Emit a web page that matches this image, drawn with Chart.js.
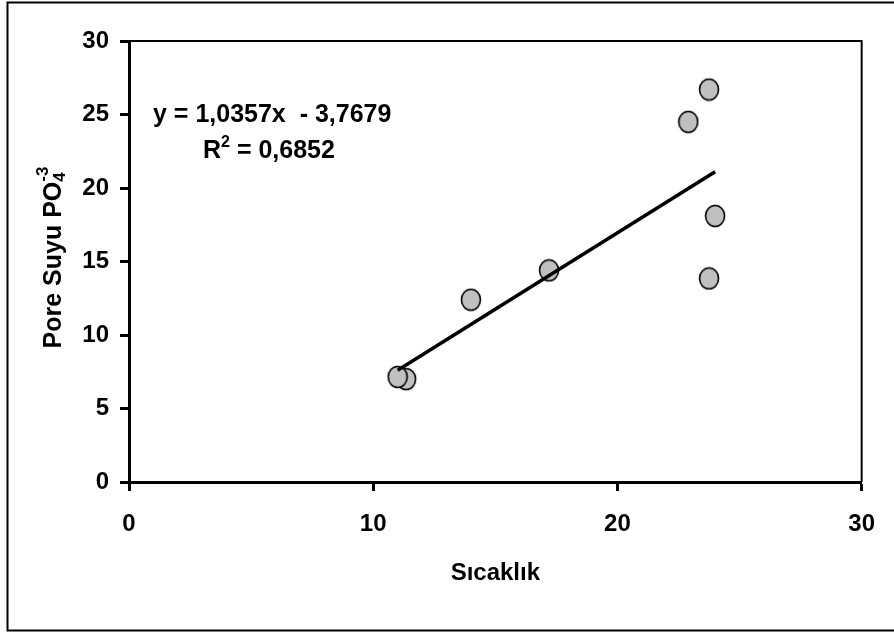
<!DOCTYPE html>
<html>
<head>
<meta charset="utf-8">
<script src="https://cdn.jsdelivr.net/npm/chart.js@4"></script>
<style>
  html, body { margin: 0; padding: 0; background: #fff; }
  #wrap { width: 894px; height: 632px; position: relative; }
</style>
</head>
<body>
<div id="wrap"><canvas id="scatterChart"></canvas></div>
<script>
// sample points
const sicaklik = [11.35, 11.0, 14.0, 17.2, 22.9, 23.75, 24.0, 23.75];
const poreSuyu = [7.0, 7.15, 12.4, 14.4, 24.5, 26.7, 18.1, 13.85];

// trend line ends (min x / max x)
const trendX = [11.0, 24.0];
const trendY = [7.6, 21.1];

const xTicks = [0, 10, 20, 30];
const yTicks = [0, 5, 10, 15, 20, 25, 30];

const eqLine = 'y = 1,0357x  - 3,7679';
const r2Value = ' = 0,6852';

const FONT = "'Liberation Sans', Arial, sans-serif";

// slightly tall oval marker like the original
function makeMarker() {
    const c = document.createElement('canvas');
    c.width = 22;
    c.height = 24;
    const g = c.getContext('2d');
    g.beginPath();
    g.ellipse(11, 12, 9.5, 10.5, 0, 0, Math.PI * 2);
    g.fillStyle = '#C0C0C0';
    g.fill();
    g.lineWidth = 1.6;
    g.strokeStyle = '#000';
    g.stroke();
    return c;
}

const framePlugin = {
    id: 'frame',
    beforeDraw(chart) {
        const ctx = chart.ctx;
        ctx.save();
        ctx.fillStyle = '#fff';
        ctx.fillRect(0, 0, chart.width, chart.height);
        ctx.restore();
    },
    afterDraw(chart) {
        const ctx = chart.ctx;
        const a = chart.chartArea;
        ctx.save();

        // outer border
        ctx.strokeStyle = '#000';
        ctx.lineWidth = 2;
        ctx.beginPath();
        ctx.moveTo(900, 2.5);
        ctx.lineTo(7.5, 2.5);
        ctx.lineTo(7.5, 630.5);
        ctx.lineTo(900, 630.5);
        ctx.stroke();

        // top and right of plot area
        ctx.lineWidth = 2;
        ctx.beginPath();
        ctx.moveTo(a.left, a.top);
        ctx.lineTo(a.right, a.top);
        ctx.lineTo(a.right, a.bottom);
        ctx.stroke();

        ctx.fillStyle = '#000';

        // y axis title with sub/superscript
        ctx.save();
        ctx.translate(61, (a.top + a.bottom) / 2 - 4);
        ctx.rotate(-Math.PI / 2);
        ctx.textBaseline = 'alphabetic';
        const big = 'bold 25px ' + FONT;
        const small = 'bold 17px ' + FONT;
        ctx.font = big;
        const w1 = ctx.measureText('Pore Suyu PO').width;
        ctx.font = small;
        const w3 = ctx.measureText('-3').width;
        let x = -(w1 + w3) / 2;
        ctx.font = big;
        ctx.fillText('Pore Suyu PO', x, 0);
        x += w1;
        ctx.font = small;
        ctx.fillText('4', x, 4);
        ctx.fillText('-3', x, -13);
        ctx.restore();

        // x axis title
        ctx.font = 'bold 24px ' + FONT;
        ctx.textAlign = 'center';
        ctx.textBaseline = 'middle';
        ctx.fillText('Sıcaklık', (a.left + a.right) / 2, 573);

        // regression text
        ctx.textAlign = 'left';
        ctx.textBaseline = 'alphabetic';
        ctx.font = 'bold 25px ' + FONT;
        ctx.fillText(eqLine, 153, 122);
        ctx.fillText('R', 203, 158);
        const rw = ctx.measureText('R').width;
        ctx.font = 'bold 16px ' + FONT;
        ctx.fillText('2', 203 + rw, 147);
        const sw = ctx.measureText('2').width;
        ctx.font = 'bold 25px ' + FONT;
        ctx.fillText(r2Value, 203 + rw + sw, 158);

        ctx.restore();
    }
};

window.addEventListener('load', () => {
    const canvas = document.getElementById('scatterChart');
    Chart.defaults.font.family = FONT;
    Chart.defaults.color = '#000';

    new Chart(canvas.getContext('2d'), {
        type: 'scatter',
        data: {
            datasets: [{
                type: 'line',
                label: 'Trend',
                data: trendX.map((v, i) => ({ x: v, y: trendY[i] })),
                borderColor: '#000',
                borderWidth: 3.5,
                pointRadius: 0,
                fill: false,
                order: 0
            }, {
                label: 'PO4',
                data: sicaklik.map((v, i) => ({ x: v, y: poreSuyu[i] })),
                pointStyle: makeMarker(),
                pointRadius: 10,
                order: 1
            }]
        },
        options: {
            responsive: true,
            maintainAspectRatio: false,
            animation: false,
            layout: {
                padding: { top: 41, right: 27, left: 0, bottom: 0 }
            },
            plugins: {
                legend: { display: false },
                tooltip: { enabled: false }
            },
            scales: {
                x: {
                    type: 'linear',
                    min: 0,
                    max: 30,
                    afterFit: s => { s.height = 150; },
                    afterBuildTicks: s => { s.ticks = xTicks.map(v => ({ value: v })); },
                    grid: {
                        drawOnChartArea: false,
                        drawTicks: true,
                        tickLength: 9,
                        tickWidth: 3,
                        tickColor: '#000'
                    },
                    border: { display: true, color: '#000', width: 3 },
                    ticks: {
                        padding: 19,
                        maxRotation: 0,
                        font: { size: 24, weight: 'bold' },
                        color: '#000'
                    }
                },
                y: {
                    type: 'linear',
                    min: 0,
                    max: 30,
                    afterFit: s => { s.width = 129; },
                    afterBuildTicks: s => { s.ticks = yTicks.map(v => ({ value: v })); },
                    grid: {
                        drawOnChartArea: false,
                        drawTicks: true,
                        tickLength: 9,
                        tickWidth: 3,
                        tickColor: '#000'
                    },
                    border: { display: true, color: '#000', width: 3 },
                    ticks: {
                        padding: 11,
                        font: { size: 24, weight: 'bold' },
                        color: '#000'
                    }
                }
            }
        },
        plugins: [framePlugin]
    });
});
</script>
</body>
</html>
